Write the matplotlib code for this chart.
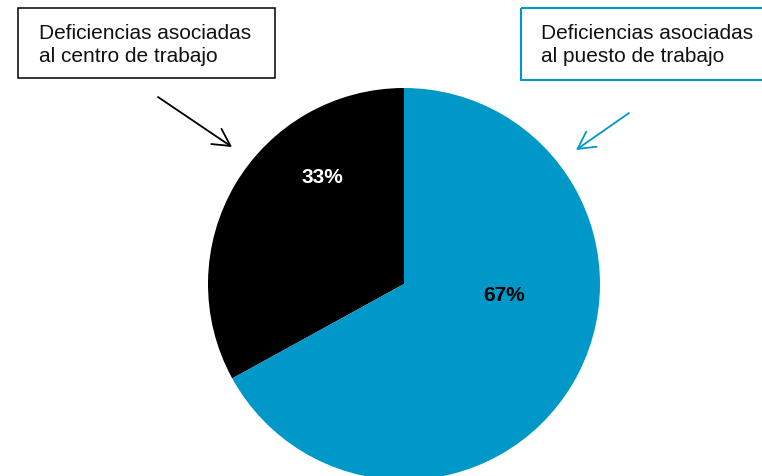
import matplotlib
matplotlib.use("Agg")
import matplotlib.pyplot as plt
from matplotlib.patches import Rectangle

plt.rcParams['font.family'] = ['Liberation Sans', 'DejaVu Sans']

# reparto de deficiencias
categorias = ['Deficiencias asociadas\nal centro de trabajo',
              'Deficiencias asociadas\nal puesto de trabajo']
porcentajes = [33, 67]
colores = ['#000000', '#0098C9']
color_etiquetas = ['white', 'black']

W, H = 762, 476
fig = plt.figure(figsize=(W / 100, H / 100), dpi=100)
fig.patch.set_facecolor('white')

# capa de anotaciones en pixeles
capa = fig.add_axes([0, 0, 1, 1])
capa.set_xlim(0, W)
capa.set_ylim(H, 0)
capa.axis('off')

# tarta
cx, cy, r = 404, 284, 196
ax = fig.add_axes([(cx - r) / W, (H - cy - r) / H, 2 * r / W, 2 * r / H])
wedges, _ = ax.pie(porcentajes, colors=colores, startangle=90, counterclock=True,
                   radius=1, wedgeprops=dict(linewidth=0))
ax.set_xlim(-1, 1)
ax.set_ylim(-1, 1)
ax.set_aspect('equal')
ax.axis('off')

pos_etiquetas = [(-0.418, 0.541), (0.51, -0.061)]
for val, (x, y), c in zip(porcentajes, pos_etiquetas, color_etiquetas):
    ax.text(x, y, f'{val}%', color=c, fontsize=15, fontweight='bold',
            ha='center', va='center')

# cuadros de texto
cajas = [((18, 8), 257, 70, 'black', 1.1, 39),
         ((521, 8), 260, 72, '#0098C9', 1.5, 541)]
for (xy, w, h, ec, lw, xt), texto in zip(cajas, categorias):
    capa.add_patch(Rectangle(xy, w, h, fill=False, edgecolor=ec, linewidth=lw))
    l1, l2 = texto.split('\n')
    capa.text(xt, xy[1] + 31, l1, fontsize=15, color='#111111', va='baseline', ha='left')
    capa.text(xt, xy[1] + 54, l2, fontsize=15, color='#111111', va='baseline', ha='left')

# flechas
flechas = [((158, 97), (232, 147), 'black'),
           ((629, 113), (576, 150), '#0098C9')]
for ini, fin, c in flechas:
    capa.annotate('', xy=fin, xytext=ini,
                  arrowprops=dict(arrowstyle='->,head_length=0.87,head_width=0.47',
                                  color=c, lw=1.3, shrinkA=0, shrinkB=0,
                                  mutation_scale=14))

fig.savefig('out.png', dpi=100)
